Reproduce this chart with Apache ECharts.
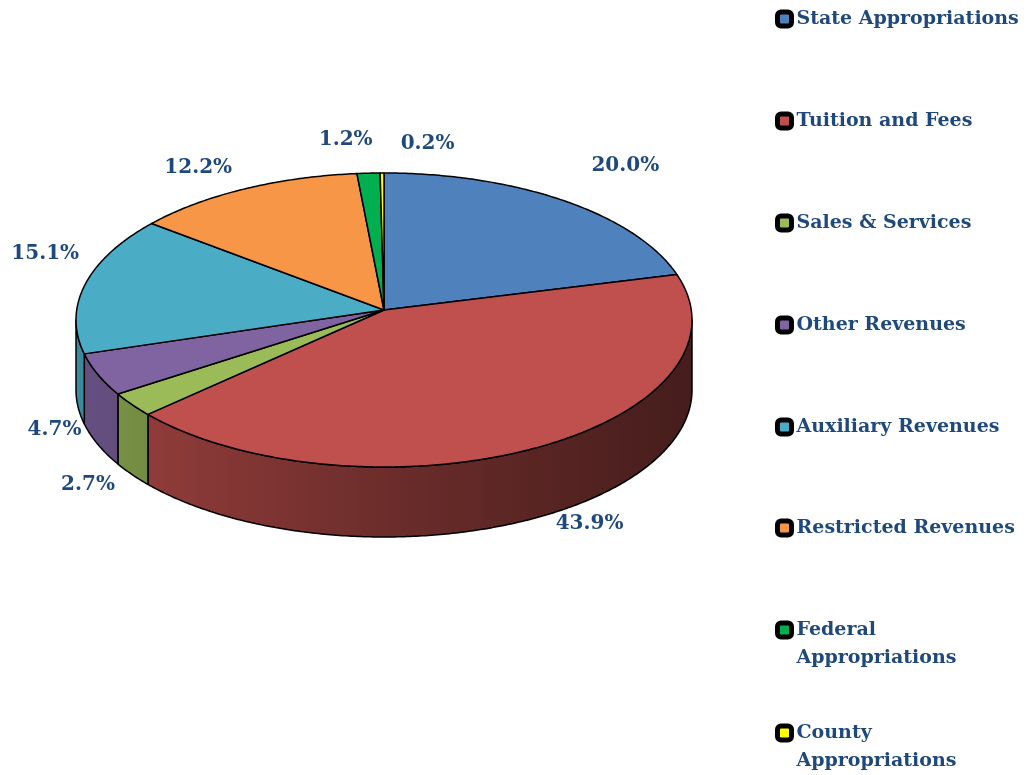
<!DOCTYPE html>
<html lang="en">
<head>
<meta charset="UTF-8">
<title>Revenue Sources</title>
<script src="https://cdn.jsdelivr.net/npm/echarts@6/dist/echarts.min.js"></script>
</head>
<body style="margin:0;background:#fff;">
<div id="main" style="width:1030px;height:775px;"></div>
<script>
var categories = ['State Appropriations', 'Tuition and Fees', 'Sales & Services', 'Other Revenues',
    'Auxiliary Revenues', 'Restricted Revenues', 'Federal Appropriations', 'County Appropriations'];
var values = [20.0, 43.9, 2.7, 4.7, 15.1, 12.2, 1.2, 0.2];
// leading blank line keeps the icon on the first line of wrapped names
var legendLabels = ['State Appropriations', 'Tuition and Fees', 'Sales & Services', 'Other Revenues',
    'Auxiliary Revenues', 'Restricted Revenues', '\nFederal\nAppropriations', '\nCounty\nAppropriations'];
var colors = ['#4F81BD', '#C0504D', '#9BBB59', '#8064A2', '#4BACC6', '#F79646', '#00B050', '#FFFF00'];

// pie geometry (flattened 3d look)
var cx = 384, cy = 320, rx = 308, ry = 147, depth = 70;
var apex = [cx, cy - 10];
// label nudges, excel moves labels around a bit
var labelNudge = [[15, -6], [19, -18], [19, 19], [28, 16], [35, -22], [-11, 12], [-19, 3], [46, 8]];
var legendTops = [5, 107, 209, 311, 413, 514, 588, 691];

var total = values.reduce(function (s, v) { return s + v; }, 0);

function pt(a, dy, k) {
    k = k || 1;
    return [cx + rx * k * Math.sin(a), cy + dy - ry * k * Math.cos(a)];
}
function arc(from, to, dy) {
    var n = Math.max(2, Math.ceil(Math.abs(to - from) / 0.01));
    var out = [];
    for (var j = 0; j <= n; j++) out.push(pt(from + (to - from) * j / n, dy));
    return out;
}
function shade(hex, f) {
    var c = parseInt(hex.slice(1), 16);
    var r = Math.round(((c >> 16) & 255) * f), g = Math.round(((c >> 8) & 255) * f), b = Math.round((c & 255) * f);
    return 'rgb(' + r + ',' + g + ',' + b + ')';
}

function sliceRenderer(i) {
    return function (params, api) {
        var start = 0;
        for (var j = 0; j < i; j++) start += values[j];
        var a0 = start / total * Math.PI * 2;
        var a1 = (start + api.value(0)) / total * Math.PI * 2;
        var color = colors[i];
        var children = [];

        // side wall, only the front half shows
        var b0 = Math.max(a0, Math.PI / 2), b1 = Math.min(a1, Math.PI * 1.5);
        if (b1 > b0) {
            var wall = arc(b0, b1, 0).concat(arc(b1, b0, depth));
            children.push({
                type: 'polygon',
                shape: { points: wall },
                style: {
                    fill: new echarts.graphic.LinearGradient(cx - rx, 0, cx + rx, 0, [
                        { offset: 0, color: shade(color, 0.8) },
                        { offset: 0.5, color: shade(color, 0.56) },
                        { offset: 1, color: shade(color, 0.36) }
                    ], true),
                    stroke: '#000',
                    lineWidth: 1.5,
                    lineJoin: 'round'
                }
            });
        }

        // top face
        var top = [apex].concat(arc(a0, a1, 0));
        children.push({
            type: 'polygon',
            shape: { points: top },
            style: { fill: color, stroke: '#000', lineWidth: 1.5, lineJoin: 'round' }
        });

        // label
        var mid = (a0 + a1) / 2;
        var p = pt(mid, 0, 1.25);
        if (Math.cos(mid) < 0) p[1] += depth * -Math.cos(mid);
        children.push({
            type: 'text',
            z2: 10,
            x: p[0] + labelNudge[i][0],
            y: p[1] + labelNudge[i][1],
            style: {
                text: api.value(0).toFixed(1) + '%',
                fill: '#1F497D',
                font: 'bold 20px "DejaVu Serif"',
                align: 'center',
                verticalAlign: 'middle'
            }
        });

        return { type: 'group', children: children };
    };
}

var series = categories.map(function (name, i) {
    return {
        type: 'custom',
        name: name,
        coordinateSystem: 'none',
        renderItem: sliceRenderer(i),
        itemStyle: { color: colors[i] },
        silent: true,
        data: [{ name: name, value: values[i] }]
    };
});

var legends = categories.map(function (name, i) {
    return {
        data: [name],
        left: 775,
        top: legendTops[i],
        padding: 0,
        orient: 'vertical',
        selectedMode: false,
        icon: 'roundRect',
        itemWidth: 14,
        itemHeight: 14,
        itemStyle: { borderColor: '#000', borderWidth: 5 },
        formatter: function () { return legendLabels[i]; },
        textStyle: {
            color: '#1F497D',
            fontFamily: 'DejaVu Serif',
            fontWeight: 'bold',
            fontSize: 19,
            lineHeight: 28
        }
    };
});

var myChart = echarts.init(document.getElementById('main'));
myChart.setOption({
    backgroundColor: '#fff',
    animation: false,
    color: colors,
    legend: legends,
    series: series
});
</script>
</body>
</html>
